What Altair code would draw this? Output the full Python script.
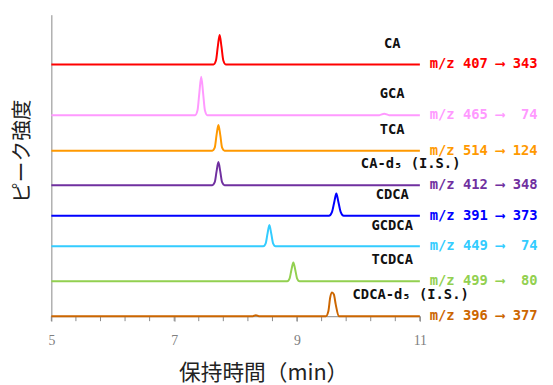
import altair as alt
import pandas as pd

# ---- data ----
names = ["CA", "GCA", "TCA", "CA-d₅ (I.S.)", "CDCA", "GCDCA", "TCDCA", "CDCA-d₅ (I.S.)"]
transitions = ["m/z 407 ⟶ 343", "m/z 465 ⟶\u00a0\u00a074", "m/z 514 ⟶ 124", "m/z 412 ⟶ 348",
               "m/z 391 ⟶ 373", "m/z 449 ⟶\u00a0\u00a074", "m/z 499 ⟶\u00a0\u00a080", "m/z 396 ⟶ 377"]
colors = ["#FF0000", "#FF99FF", "#FF9900", "#7030A0", "#0000FF", "#33CCFF", "#92D050", "#CC6600"]
offsets = [255.5, 204, 168, 133, 102, 71, 35.5, 0]

times = [
    [5, 7.64, 7.68, 7.71, 7.74, 7.77, 7.80, 7.84, 11],
    [5, 7.34, 7.38, 7.41, 7.44, 7.47, 7.50, 7.54, 10.34, 10.42, 10.50, 11],
    [5, 7.62, 7.66, 7.69, 7.72, 7.75, 7.78, 7.82, 11],
    [5, 7.62, 7.66, 7.69, 7.72, 7.75, 7.78, 7.82, 11],
    [5, 9.52, 9.57, 9.61, 9.64, 9.67, 9.71, 9.76, 11],
    [5, 8.45, 8.49, 8.52, 8.55, 8.58, 8.61, 8.65, 11],
    [5, 8.84, 8.88, 8.91, 8.94, 8.97, 9.00, 9.04, 11],
    [5, 8.28, 8.33, 8.38, 9.47, 9.51, 9.54, 9.57, 9.60, 9.63, 9.68, 11],
]
intensities = [
    [0, 0, 4, 18, 30, 18, 4, 0, 0],
    [0, 0, 5, 23, 39, 23, 5, 0, 0, 1.5, 0, 0],
    [0, 0, 3, 16, 26, 16, 3, 0, 0],
    [0, 0, 3, 14, 23.5, 14, 3, 0, 0],
    [0, 0, 4, 15, 22.5, 15, 4, 0, 0],
    [0, 0, 3, 13, 21.5, 13, 3, 0, 0],
    [0, 0, 3, 12, 19, 12, 3, 0, 0],
    [0, 0, 1, 0, 0, 5, 19, 24, 22, 12, 0, 0],
]
x_labels = [5, 7, 9, 11]
x_minor = [5.0, 5.4, 5.8, 6.2, 6.6, 7.0, 7.4, 7.8, 8.2, 8.6, 9.0, 9.4, 9.8, 10.2, 10.6, 11.0]

rows = []
for n, off, ts, vs in zip(names, offsets, times, intensities):
    for t, v in zip(ts, vs):
        rows.append({"name": n, "t": t, "y": off + v})
traces = pd.DataFrame(rows)
labels = pd.DataFrame({"name": names, "mz": transitions, "offset": offsets})
minor = pd.DataFrame({"t": x_minor})

color_scale = alt.Scale(domain=names, range=colors)
xs = alt.Scale(domain=[5, 11], nice=False, zero=False)
ys = alt.Scale(domain=[0, 306], nice=False, zero=False)

lines = alt.Chart(traces).mark_line(strokeWidth=2, interpolate="monotone").encode(
    x=alt.X("t:Q", scale=xs, axis=alt.Axis(
        values=x_labels, grid=False, title="保持時間（min）", format="d", labelFlush=False,
        labelFont="Liberation Serif", labelFontSize=14, labelColor="#808080", labelPadding=13,
        tickSize=5, tickColor="#888888", domainColor="#888888",
        titleFont="Noto Sans CJK JP", titleFontSize=22, titleFontWeight="normal", titleColor="#222222",
        titleX=215, titleY=57, titleBaseline="middle", titleAlign="center")),
    y=alt.Y("y:Q", scale=ys, axis=alt.Axis(
        labels=False, ticks=False, grid=False, title="ピーク強度", domainColor="#888888",
        titleFont="Noto Sans CJK JP", titleFontSize=21, titleFontWeight="normal", titleColor="#222222",
        titleX=-29, titleY=138, titleAngle=270, titleAlign="center", titleBaseline="middle")),
    color=alt.Color("name:N", scale=color_scale, legend=None),
    detail="name:N",
)

minor_ticks = alt.Chart(minor).mark_rule(color="#888888", strokeWidth=1).encode(
    x=alt.X("t:Q", scale=xs), y=alt.value(306), y2=alt.value(311))

name_text = alt.Chart(labels).transform_calculate(
    lx="indexof(datum.name, 'I.S.') >= 0 ? 10.85 : 10.55",
    ly="datum.offset + 21",
).mark_text(font="DejaVu Sans Mono", fontWeight="bold", fontSize=14, color="#111111",
            align="center", baseline="middle").encode(
    x=alt.X("lx:Q", scale=xs), y=alt.Y("ly:Q", scale=ys), text="name:N")

mz_text = alt.Chart(labels).transform_calculate(lx="11").mark_text(
    font="DejaVu Sans Mono", fontWeight="bold", fontSize=14, align="left", baseline="middle", dx=10
).encode(
    x=alt.X("lx:Q", scale=xs), y=alt.Y("offset:Q", scale=ys), text="mz:N",
    color=alt.Color("name:N", scale=color_scale, legend=None))

chart = alt.layer(minor_ticks, lines, name_text, mz_text).properties(
    width=374, height=306, autosize="none",
    padding={"left": 44, "top": 4, "right": 127, "bottom": 67},
).configure_view(stroke=None)

chart.save("out.html", embed_options={"renderer": "svg", "actions": False})
